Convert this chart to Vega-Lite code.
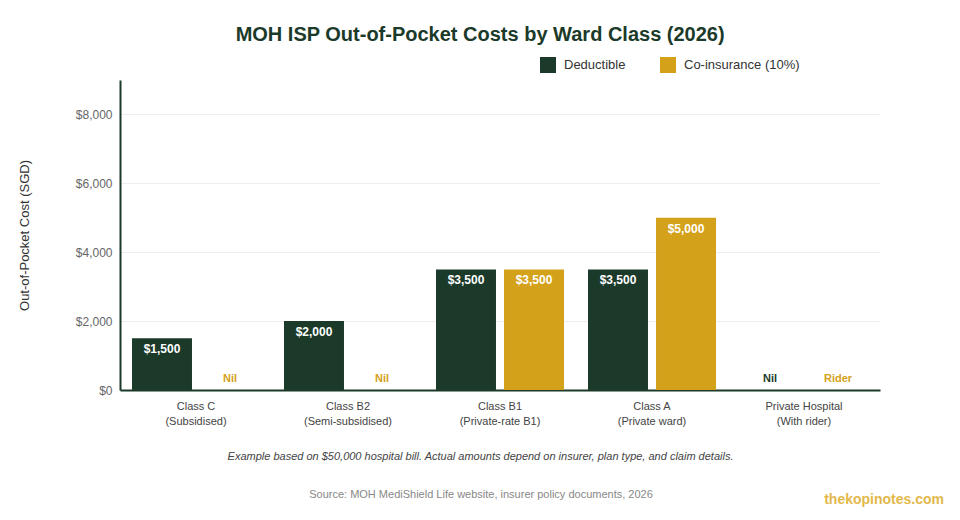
{
  "$schema": "https://vega.github.io/schema/vega-lite/v6.json",
  "background": "white",
  "padding": {"left": 18, "top": 25, "right": 10, "bottom": 5},
  "config": {"font": "Liberation Sans", "view": {"stroke": null}, "concat": {"spacing": 0}},
  "title": {"text": "MOH ISP Out-of-Pocket Costs by Ward Class (2026)", "fontSize": 20, "fontWeight": "bold", "color": "#1b3a2a", "anchor": "middle", "dx": -1, "offset": 12},
  "vconcat": [
    {
      "title": {"text": "thekopinotes.com", "orient": "bottom", "anchor": "end", "fontSize": 14, "fontWeight": "bold", "color": "#e2b84a", "offset": -7, "dx": 64},
      "vconcat": [
        {
          "title": {"text": "Source: MOH MediShield Life website, insurer policy documents, 2026", "orient": "bottom", "anchor": "middle", "fontSize": 11, "fontWeight": "normal", "color": "#888888", "offset": 28, "dx": -19},
          "width": 760,
          "height": 310,
          "data": {"values": [
            {"ward": "Class C|(Subsidised)", "series": "Deductible", "value": 1500, "label": "$1,500"},
            {"ward": "Class C|(Subsidised)", "series": "Co-insurance (10%)", "value": 0, "label": "Nil"},
            {"ward": "Class B2|(Semi-subsidised)", "series": "Deductible", "value": 2000, "label": "$2,000"},
            {"ward": "Class B2|(Semi-subsidised)", "series": "Co-insurance (10%)", "value": 0, "label": "Nil"},
            {"ward": "Class B1|(Private-rate B1)", "series": "Deductible", "value": 3500, "label": "$3,500"},
            {"ward": "Class B1|(Private-rate B1)", "series": "Co-insurance (10%)", "value": 3500, "label": "$3,500"},
            {"ward": "Class A|(Private ward)", "series": "Deductible", "value": 3500, "label": "$3,500"},
            {"ward": "Class A|(Private ward)", "series": "Co-insurance (10%)", "value": 5000, "label": "$5,000"},
            {"ward": "Private Hospital|(With rider)", "series": "Deductible", "value": 0, "label": "Nil"},
            {"ward": "Private Hospital|(With rider)", "series": "Co-insurance (10%)", "value": 0, "label": "Rider"}
          ]},
          "encoding": {
            "x": {
              "field": "ward", "type": "nominal",
              "sort": ["Class C|(Subsidised)", "Class B2|(Semi-subsidised)", "Class B1|(Private-rate B1)", "Class A|(Private ward)", "Private Hospital|(With rider)"],
              "scale": {"paddingInner": 0.158, "paddingOuter": 0.079},
              "axis": {
                "title": "Example based on $50,000 hospital bill. Actual amounts depend on insurer, plan type, and claim details.",
                "titleFontStyle": "italic", "titleFontSize": 11, "titleColor": "#444444", "titleFontWeight": "normal",
                "titlePadding": 24, "titleX": 360,
                "labelExpr": "split(datum.value, '|')", "labelAngle": 0, "labelFontSize": 11, "labelColor": "#444444",
                "labelPadding": 10, "labelLineHeight": 15, "ticks": false,
                "domainColor": "#1b3a2a", "domainWidth": 2
              }
            },
            "xOffset": {"field": "series", "type": "nominal", "sort": ["Deductible", "Co-insurance (10%)"], "scale": {"paddingInner": 0.118, "paddingOuter": 0}}
          },
          "layer": [
            {
              "mark": {"type": "bar"},
              "encoding": {
                "y": {
                  "field": "value", "type": "quantitative",
                  "scale": {"domain": [0, 9000], "nice": false},
                  "axis": {
                    "values": [0, 2000, 4000, 6000, 8000], "format": "$,.0f",
                    "title": "Out-of-Pocket Cost (SGD)", "titleFontSize": 13, "titleColor": "#333333", "titleFontWeight": "normal",
                    "titlePadding": 44, "labelFontSize": 12, "labelColor": "#666666", "labelPadding": 8, "ticks": false,
                    "domainColor": "#1b3a2a", "domainWidth": 2, "gridColor": "#eeeeee"
                  }
                },
                "color": {
                  "field": "series", "type": "nominal",
                  "scale": {"domain": ["Deductible", "Co-insurance (10%)"], "range": ["#1b3a2a", "#d4a11a"]},
                  "legend": {
                    "title": null, "orient": "none", "direction": "horizontal", "legendX": 420, "legendY": -23,
                    "symbolType": "square", "symbolSize": 256, "symbolStrokeWidth": 0, "labelFontSize": 13, "labelColor": "#333333",
                    "labelOffset": 8, "columnPadding": 34, "padding": 0
                  }
                }
              }
            },
            {
              "transform": [{"filter": "datum.value > 0"}],
              "mark": {"type": "text", "baseline": "top", "dy": 6, "fontSize": 12, "fontWeight": "bold", "color": "white"},
              "encoding": {
                "y": {"field": "value", "type": "quantitative"},
                "text": {"field": "label"}
              }
            },
            {
              "transform": [{"filter": "datum.value == 0"}],
              "mark": {"type": "text", "baseline": "bottom", "dy": -6, "fontSize": 11, "fontWeight": "bold"},
              "encoding": {
                "y": {"field": "value", "type": "quantitative"},
                "text": {"field": "label"},
                "color": {"condition": {"test": "datum.series === 'Deductible'", "value": "#1b3a2a"}, "value": "#d4a11a"}
              }
            }
          ]
        }
      ]
    }
  ]
}
